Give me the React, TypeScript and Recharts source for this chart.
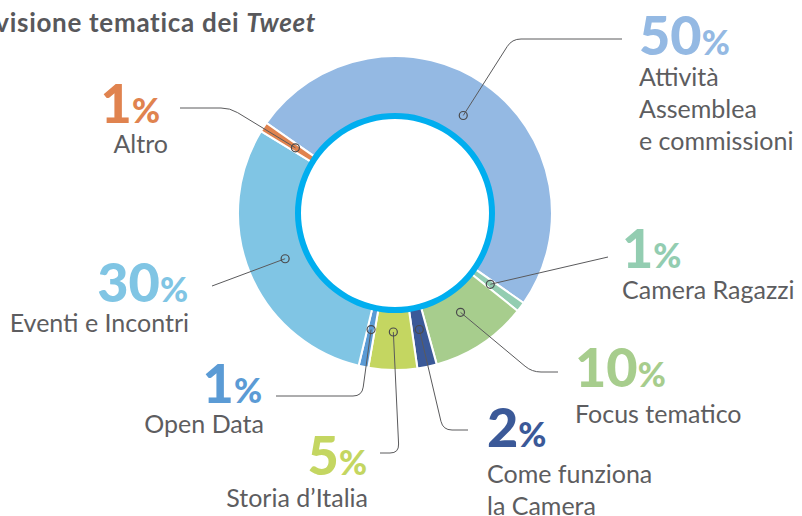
import { Pie, PieChart } from "recharts";

const values = [50, 1, 10, 2, 5, 1, 30, 1];
const categoryLines = [
  ["Attività", "Assemblea", "e commissioni"],
  ["Camera Ragazzi"],
  ["Focus tematico"],
  ["Come funziona", "la Camera"],
  ["Storia d’Italia"],
  ["Open Data"],
  ["Eventi e Incontri"],
  ["Altro"]
];
const colors = ["#94b9e3", "#93cdb1", "#a7cd8d", "#3b5998", "#c4d661", "#5b9bd5", "#80c5e4", "#e0834f"];
const title = "Suddivisione tematica dei ";
const titleItalic = "Tweet";

const data = values.map((value, i) => ({ name: categoryLines[i].join(" "), value, fill: colors[i] }));
const ring = [{ name: "ring", value: 1, fill: "#00aeef" }];

// label placement (elbow of the leader line, where the line stops, text anchors)
type Layout = {
  elbow?: [number, number];
  end: [number, number];
  pctX: number;
  pctY: number;
  textX: number;
  textY: number;
  anchor: "start" | "end";
};
const layout: Layout[] = [
  { elbow: [512, 39], end: [622, 39], pctX: 639, pctY: 55, textX: 639, textY: 86, anchor: "start" },
  { end: [608, 257], pctX: 622, pctY: 268, textX: 622, textY: 299, anchor: "start" },
  { elbow: [532, 372], end: [558, 372], pctX: 575, pctY: 387, textX: 575, textY: 423, anchor: "start" },
  { elbow: [443, 430], end: [468, 430], pctX: 487, pctY: 447, textX: 487, textY: 483, anchor: "start" },
  { elbow: [399, 453], end: [380, 453], pctX: 367, pctY: 475, textX: 368, textY: 507, anchor: "end" },
  { elbow: [362, 396], end: [276, 396], pctX: 262, pctY: 403, textX: 264, textY: 433, anchor: "end" },
  { end: [212, 286], pctX: 188, pctY: 302, textX: 189, textY: 332, anchor: "end" },
  { elbow: [230, 108], end: [180, 108], pctX: 160, pctY: 123, textX: 168, textY: 153, anchor: "end" }
];

const RAD = Math.PI / 180;
const FONT = "Lato, 'Open Sans', sans-serif";

function leaderPath(mx: number, my: number, l: Layout) {
  if (!l.elbow) return `M${mx},${my}L${l.end[0]},${l.end[1]}`;
  const [ex, ey] = l.elbow;
  const dx = ex - mx;
  const dy = ey - my;
  const len = Math.hypot(dx, dy) || 1;
  const k = 9;
  const p1x = ex - (dx / len) * k;
  const p1y = ey - (dy / len) * k;
  const dir = Math.sign(l.end[0] - ex);
  return `M${mx},${my}L${p1x},${p1y}Q${ex},${ey} ${ex + dir * k},${ey}L${l.end[0]},${l.end[1]}`;
}

function renderLabel(props: any) {
  const { cx, cy, midAngle, index, value } = props;
  const l = layout[index];
  const r = 119;
  const mx = cx + r * Math.cos(-midAngle * RAD);
  const my = cy + r * Math.sin(-midAngle * RAD);
  return (
    <g key={`lbl-${index}`}>
      <path d={leaderPath(mx, my, l)} stroke="#5a5a5c" strokeWidth={1} fill="none" />
      <circle cx={mx} cy={my} r={4} stroke="#4a4a4c" strokeWidth={1.2} fill="none" />
      <text x={l.pctX} y={l.pctY} textAnchor={l.anchor} fill={colors[index]} fontFamily={FONT} fontWeight={900}>
        <tspan fontSize={54}>{value}</tspan>
        <tspan fontSize={34}>%</tspan>
      </text>
      {categoryLines[index].map((line, j) => (
        <text key={line} x={l.textX} y={l.textY + j * 32} textAnchor={l.anchor} fill="#5d5d60" fontFamily={FONT} fontSize={25}>
          {line}
        </text>
      ))}
    </g>
  );
}

export default function App() {
  return (
    <div style={{ position: "absolute", left: 0, top: 0, width: 802, height: 516, background: "#fff" }}>
      <PieChart width={802} height={516} margin={{ top: 0, right: 0, bottom: 0, left: 0 }}>
        <text x={316} y={32} textAnchor="end" fill="#58585b" fontFamily={FONT} fontWeight={700} fontSize={26} letterSpacing={0.7}>
          {title}
          <tspan fontStyle="italic">{titleItalic}</tspan>
        </text>
        <Pie
          data={data}
          dataKey="value"
          nameKey="name"
          cx={395}
          cy={213}
          innerRadius={97}
          outerRadius={157}
          startAngle={145}
          endAngle={-215}
          stroke="#ffffff"
          strokeWidth={2}
          label={renderLabel}
          labelLine={false}
          isAnimationActive={false}
        />
        <Pie
          data={ring}
          dataKey="value"
          cx={395}
          cy={213}
          innerRadius={94}
          outerRadius={100}
          stroke="none"
          isAnimationActive={false}
        />
      </PieChart>
    </div>
  );
}
